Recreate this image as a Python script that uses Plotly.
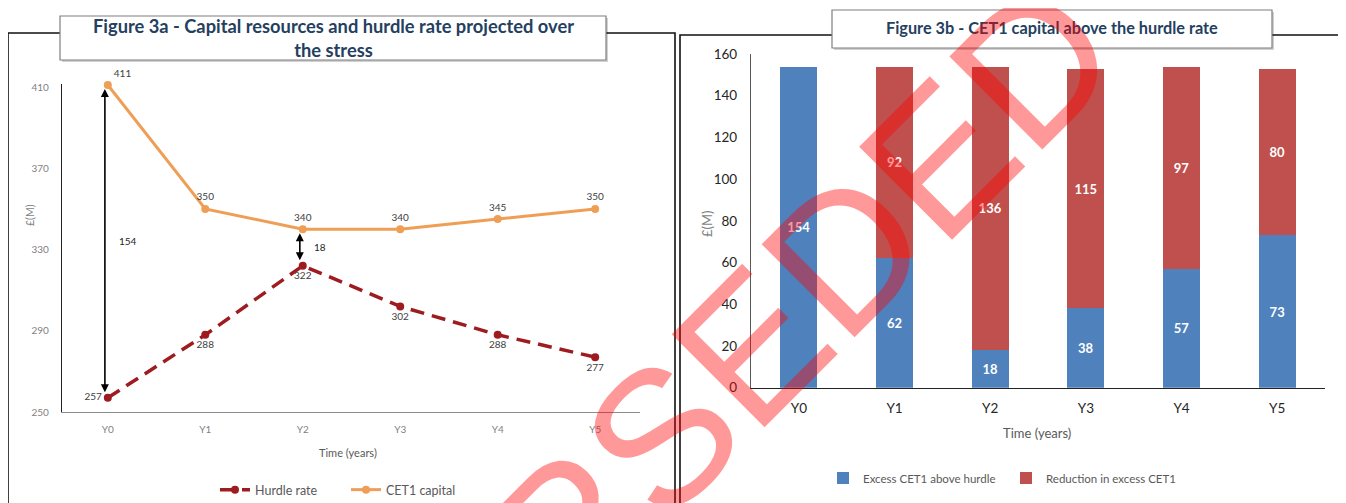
import plotly.graph_objects as go

W, H = 1346, 503
OFF = 8  # page body margin in the browser

# ---------------- data ----------------
years = ["Y0", "Y1", "Y2", "Y3", "Y4", "Y5"]
cet1_capital = [411, 350, 340, 340, 345, 350]
hurdle_rate = [257, 288, 322, 302, 288, 277]
excess_cet1 = [154, 62, 18, 38, 57, 73]
reduction_excess = [0, 92, 136, 115, 97, 80]
left_yticks = [250, 290, 330, 370, 410]
right_yticks = [0, 20, 40, 60, 80, 100, 120, 140, 160]
gap_years = [0, 2]  # indices where the gap arrows are drawn

title_a = "Figure 3a - Capital resources and hurdle rate projected over<br>the stress"
title_b = "Figure 3b - CET1 capital above the hurdle rate"
watermark = "SUPERSEDED"


def px(x):
    return (x - OFF) / W


def py(y):
    return 1 - (y - OFF) / H


FONT = "Lato, 'Open Sans', sans-serif"
ORANGE = "#EE9F55"
DKRED = "#9E1B1F"
BLUE = "#4F81BD"
RED = "#C0504D"

fig = go.Figure()

# ---------------- left: lines ----------------
fig.add_trace(go.Scatter(
    x=years, y=hurdle_rate, name="Hurdle rate", mode="lines+markers+text",
    line=dict(color=DKRED, width=3.5, dash="14px,8px"),
    marker=dict(size=8, color=DKRED),
    text=[str(v) for v in hurdle_rate],
    textposition=["middle left"] + ["bottom center"] * 5,
    textfont=dict(family=FONT, size=10, color="#404040"),
    cliponaxis=False, xaxis="x", yaxis="y", legend="legend",
))
fig.add_trace(go.Scatter(
    x=years, y=cet1_capital, name="CET1 capital", mode="lines+markers+text",
    line=dict(color=ORANGE, width=3),
    marker=dict(size=8, color=ORANGE),
    text=[str(v) for v in cet1_capital],
    textposition=["top right"] + ["top center"] * 5,
    textfont=dict(family=FONT, size=10, color="#404040"),
    cliponaxis=False, xaxis="x", yaxis="y", legend="legend",
))

# ---------------- right: stacked bars ----------------
fig.add_trace(go.Bar(
    x=years, y=excess_cet1, name="Excess CET1 above hurdle",
    marker=dict(color=BLUE, line=dict(width=0)),
    text=[str(v) if v else "" for v in excess_cet1],
    textposition="inside", insidetextanchor="middle",
    textfont=dict(family=FONT, size=13, color="white", weight="bold"),
    xaxis="x2", yaxis="y2", legend="legend2",
))
fig.add_trace(go.Bar(
    x=years, y=reduction_excess, name="Reduction in excess CET1",
    marker=dict(color=RED, line=dict(width=0)),
    text=[str(v) if v else "" for v in reduction_excess],
    textposition="inside", insidetextanchor="middle",
    textfont=dict(family=FONT, size=13, color="white", weight="bold"),
    xaxis="x2", yaxis="y2", legend="legend2",
))

# ---------------- shapes: frames + title boxes ----------------
shapes = []
frame_line = dict(color="#111111", width=1.6)
shapes.append(dict(type="rect", xref="paper", yref="paper", layer="below",
                   x0=px(8), x1=px(675), y0=py(530), y1=py(33), line=frame_line))
shapes.append(dict(type="rect", xref="paper", yref="paper", layer="below",
                   x0=px(680), x1=px(1341), y0=py(530), y1=py(35), line=frame_line))
# title box shadows
shapes.append(dict(type="rect", xref="paper", yref="paper", layer="below",
                   x0=px(62), x1=px(608), y0=py(62), y1=py(18),
                   line=dict(width=0), fillcolor="rgba(0,0,0,0.18)"))
shapes.append(dict(type="rect", xref="paper", yref="paper", layer="below",
                   x0=px(834), x1=px(1274), y0=py(50), y1=py(12),
                   line=dict(width=0), fillcolor="rgba(0,0,0,0.18)"))
shapes.append(dict(type="rect", xref="paper", yref="paper", layer="below",
                   x0=px(60), x1=px(606), y0=py(60), y1=py(16),
                   line=dict(color="#7f7f7f", width=1.2), fillcolor="white"))
shapes.append(dict(type="rect", xref="paper", yref="paper", layer="below",
                   x0=px(832), x1=px(1272), y0=py(48), y1=py(10),
                   line=dict(color="#7f7f7f", width=1.2), fillcolor="white"))

# ---------------- annotations ----------------
ann = []
C = dict(xanchor="center", yanchor="middle", showarrow=False)
ann.append(dict(text="<b>" + title_a + "</b>", xref="paper", yref="paper",
                x=px(333), y=py(38), **C,
                font=dict(family=FONT, size=18.3, color="#243F60")))
ann.append(dict(text="<b>" + title_b + "</b>", xref="paper", yref="paper",
                x=px(1052), y=py(28), **C,
                font=dict(family=FONT, size=16.3, color="#243F60")))
# axis titles
ann.append(dict(text="£(M)", xref="paper", yref="paper", x=px(30), y=py(215),
                textangle=-90, **C,
                font=dict(family=FONT, size=10.5, color="#7f7f7f")))
ann.append(dict(text="Time (years)", xref="paper", yref="paper", x=px(348), y=py(452),
                **C, font=dict(family=FONT, size=11, color="#595959")))
ann.append(dict(text="£(M)", xref="paper", yref="paper", x=px(707), y=py(224),
                textangle=-90, **C,
                font=dict(family=FONT, size=13, color="#7f7f7f")))
ann.append(dict(text="Time (years)", xref="paper", yref="paper", x=px(1037), y=py(433),
                **C, font=dict(family=FONT, size=13, color="#595959")))

# gap arrows on left chart
for i in gap_years:
    top, bot = cet1_capital[i], hurdle_rate[i]
    ann.append(dict(x=i - 0.03, y=top - 2, ax=i - 0.03, ay=bot + 2,
                    xref="x", yref="y", axref="x", ayref="y",
                    showarrow=True, arrowside="end+start", arrowhead=2,
                    arrowsize=1, arrowwidth=1.6, arrowcolor="black", text=""))
    ann.append(dict(x=i, y=(top + bot) / 2, xref="x", yref="y",
                    text=str(top - bot), showarrow=False, xshift=20 if i == 0 else 17,
                    font=dict(family=FONT, size=10, color="#262626")))

# watermark
ann.append(dict(text=watermark, xref="paper", yref="paper",
                x=px(616), y=py(481), xanchor="center", yanchor="middle",
                textangle=-45, showarrow=False,
                font=dict(family="'Liberation Sans', Arial, sans-serif", size=191,
                          color="rgba(255,0,0,0.40)")))

AX = dict(automargin=False, showgrid=False, zeroline=False, ticks="")
fig.update_layout(
    width=W, height=H,
    margin=dict(l=0, r=0, t=0, b=0, pad=0),
    paper_bgcolor="white", plot_bgcolor="rgba(0,0,0,0)",
    font=dict(family=FONT),
    barmode="stack", bargap=0.61,
    shapes=shapes, annotations=ann,
    xaxis=dict(domain=[px(62), px(640)], anchor="y", type="category",
               range=[-0.47, 5.46], **AX,
               showline=True, linecolor="#8c8c8c", linewidth=1.2,
               ticklabelstandoff=8,
               tickfont=dict(family=FONT, size=10, color="#7f7f7f")),
    yaxis=dict(domain=[py(412), py(84)], anchor="x", range=[250, 411.5],
               tickvals=left_yticks, **AX,
               showline=True, linecolor="#222222", linewidth=1.2,
               ticklabelstandoff=10,
               tickfont=dict(family=FONT, size=10, color="#7f7f7f")),
    xaxis2=dict(domain=[px(751), px(1325)], anchor="y2", type="category",
                range=[-0.5, 5.5], **AX,
                showline=True, linecolor="#222222", linewidth=1.4,
                ticklabelstandoff=8,
                tickfont=dict(family=FONT, size=13.5, color="#262626")),
    yaxis2=dict(domain=[py(387.7), py(54)], anchor="x2", range=[0, 160],
                tickvals=right_yticks, **AX,
                showline=True, linecolor="#595959", linewidth=1.2,
                ticklabelstandoff=10,
                tickfont=dict(family=FONT, size=13.5, color="#262626")),
    legend=dict(x=px(346), y=py(490), xanchor="center", yanchor="middle",
                orientation="h", bgcolor="rgba(0,0,0,0)", entrywidth=86,
                font=dict(family=FONT, size=12.5, color="#595959")),
    legend2=dict(x=px(1006), y=py(478), xanchor="center", yanchor="middle",
                 orientation="h", bgcolor="rgba(0,0,0,0)", traceorder="normal",
                 entrywidth=138,
                 font=dict(family=FONT, size=11.5, color="#595959")),
)

fig.write_html("out.html")
